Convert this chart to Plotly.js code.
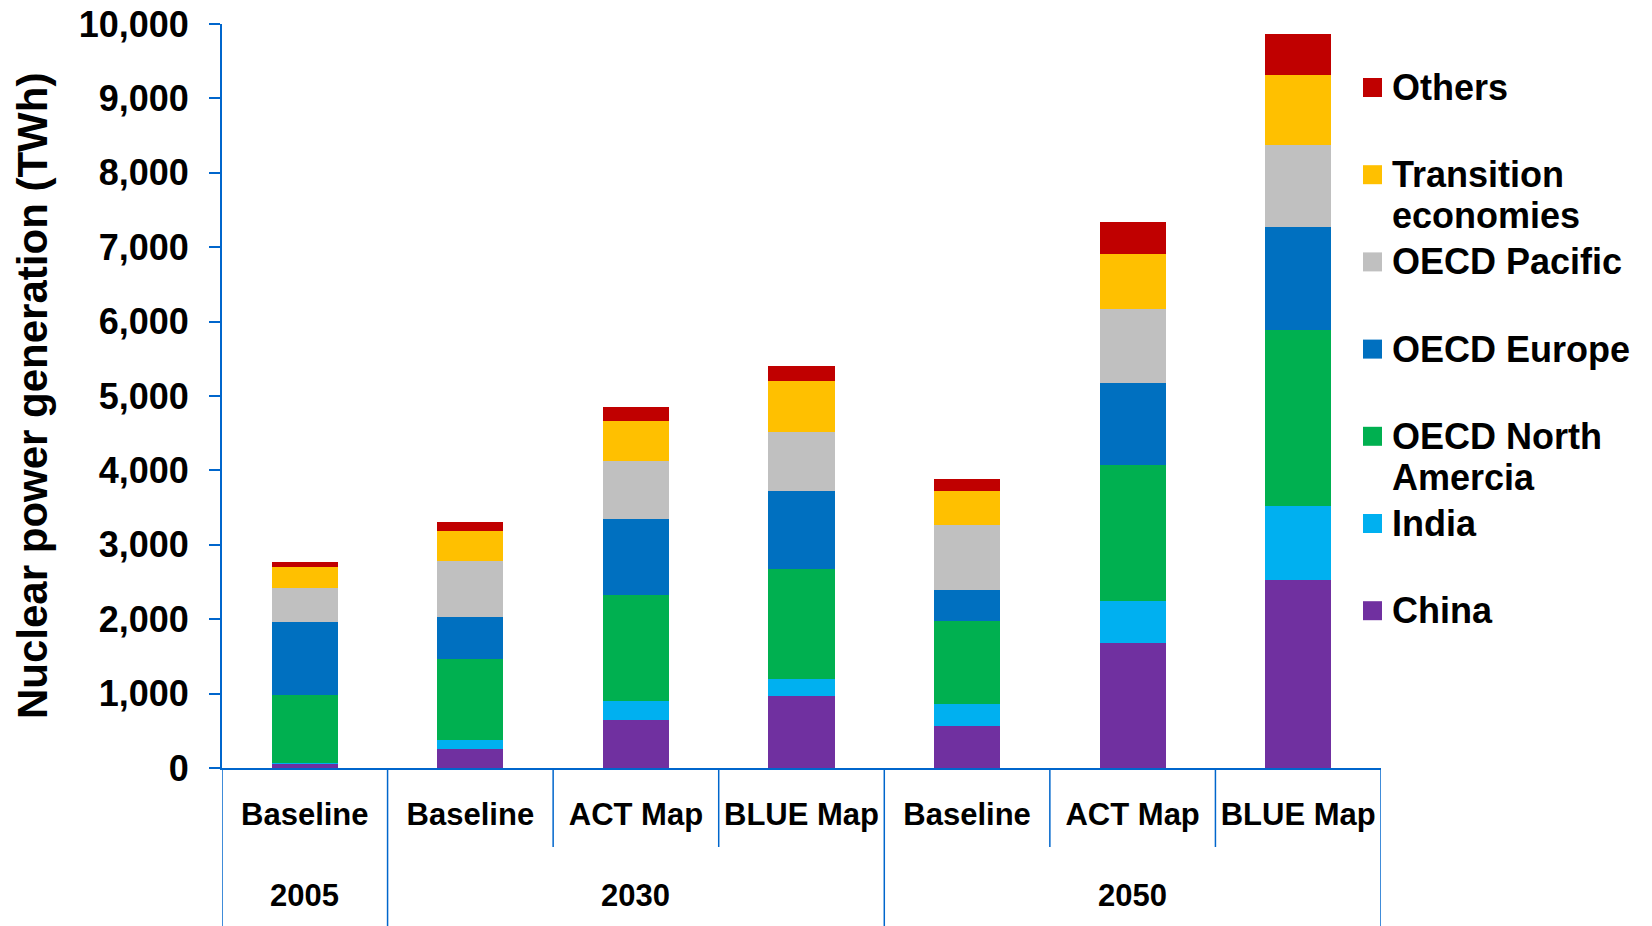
<!DOCTYPE html>
<html><head><meta charset="utf-8">
<script src="https://cdn.plot.ly/plotly-3.0.1.min.js"></script>
<style>html,body{margin:0;padding:0;background:#fff}#chart{width:1652px;height:926px}</style>
</head><body><div id="chart"></div>
<script>
// ---- data ----
const scenarios = ['Baseline', 'Baseline', 'ACT Map', 'BLUE Map', 'Baseline', 'ACT Map', 'BLUE Map'];
const years = ['2005', '2030', '2030', '2030', '2050', '2050', '2050'];
const china = [50, 255, 646, 969, 568, 1676, 2525];
const india = [20, 126, 251, 233, 287, 566, 1001];
const oecdNorthAmerica = [917, 1081, 1435, 1475, 1126, 1830, 2355];
const oecdEurope = [973, 565, 1018, 1045, 417, 1107, 1384];
const oecdPacific = [457, 749, 771, 794, 862, 996, 1113];
const transition = [278, 403, 543, 690, 464, 737, 939];
const others = [76, 130, 188, 193, 157, 421, 544];
const seriesNames = ['China', 'India', 'OECD North Amercia', 'OECD Europe', 'OECD Pacific', 'Transition economies', 'Others'];
const legendLabels = ['China', 'India', 'OECD North<br>Amercia', 'OECD Europe', 'OECD Pacific', 'Transition<br>economies', 'Others'];
const seriesValues = [china, india, oecdNorthAmerica, oecdEurope, oecdPacific, transition, others];
const colors = ['#7030A0', '#00B0F0', '#00B050', '#0070C0', '#C0C0C0', '#FFC000', '#C00000'];
const yTickVals = [0, 1000, 2000, 3000, 4000, 5000, 6000, 7000, 8000, 9000, 10000];
const yTitle = 'Nuclear power generation (TWh)';

// ---- layout constants ----
const W = 1652, H = 926;
const M = {l: 222, r: 271, t: 24, b: 158};
const PW = W - M.l - M.r, PH = H - M.t - M.b;
const px2x = x => (x - M.l) / PW;
const px2y = y => (H - M.b - y) / PH;
const FONT = 'Liberation Sans, Arial, Helvetica, sans-serif';
const AX = '#0066CC';

const idx = scenarios.map((_, i) => i);

const traces = seriesValues.map((vals, k) => ({
  type: 'bar',
  name: seriesNames[k],
  x: idx,
  y: vals,
  marker: {color: colors[k], line: {width: 0}},
  hoverinfo: 'name+y'
}));

const shapes = [];
// category dividers below the axis
const bounds = [-0.5];
for (let i = 0; i < idx.length - 1; i++) bounds.push(i + 0.5);
bounds.push(idx.length - 0.5);
bounds.forEach(b => {
  const long = (b < 0) || (b > idx.length - 1) || (years[Math.floor(b)] !== years[Math.ceil(b)]);
  shapes.push({type: 'line', xref: 'x', yref: 'paper', x0: b, x1: b, y0: 0,
    y1: long ? px2y(H + 5) : px2y(847), line: {color: AX, width: 1.5}});
});

const annotations = [];
// y-axis title
annotations.push({xref: 'paper', yref: 'paper', x: px2x(32), y: 0.5, text: yTitle, textangle: -90,
  showarrow: false, xanchor: 'center', yanchor: 'middle',
  font: {family: FONT, size: 42, color: '#000', weight: 700}});
// year group labels
const groups = [...new Set(years)];
groups.forEach(g => {
  const members = idx.filter(i => years[i] === g);
  const c = members.reduce((a, b) => a + b, 0) / members.length;
  annotations.push({xref: 'x', yref: 'paper', x: c, y: px2y(895), text: g, showarrow: false,
    xanchor: 'center', yanchor: 'middle', font: {family: FONT, size: 31, color: '#000', weight: 700}});
});

// legend (top: Others ... bottom: China)
const legTop = 87.5, legStep = 87.2, lineGap = 41;
for (let r = 0; r < seriesNames.length; r++) {
  const k = seriesNames.length - 1 - r;
  const cy = legTop + r * legStep;
  shapes.push({type: 'rect', xref: 'paper', yref: 'paper', x0: px2x(1363), x1: px2x(1382),
    y0: px2y(cy + 9.5), y1: px2y(cy - 9.5), fillcolor: colors[k], line: {width: 0}});
  const lines = legendLabels[k].split('<br>').length;
  annotations.push({xref: 'paper', yref: 'paper', x: px2x(1390), y: px2y(cy + (lines - 1) * lineGap / 2),
    text: '<span style="font-size:36px">' + legendLabels[k] + '</span>', showarrow: false,
    xanchor: 'left', yanchor: 'middle', align: 'left',
    font: {family: FONT, size: 31.5, color: '#000', weight: 700}});
}

const layout = {
  width: W, height: H,
  margin: {l: M.l, r: M.r, t: M.t, b: M.b, pad: 0},
  paper_bgcolor: '#fff', plot_bgcolor: '#fff',
  font: {family: FONT, color: '#000', weight: 700},
  barmode: 'stack',
  bargap: 0.6,
  showlegend: false,
  xaxis: {
    range: [-0.5, idx.length - 0.5], tickvals: idx, ticktext: scenarios,
    ticks: '', showgrid: false, zeroline: false,
    showline: true, linecolor: AX, linewidth: 2,
    tickfont: {family: FONT, size: 31, color: '#000', weight: 700},
    ticklabelstandoff: 18, automargin: false, fixedrange: true
  },
  yaxis: {
    range: [0, 10000], tickvals: yTickVals, tickformat: ',d',
    ticks: 'outside', ticklen: 11, tickwidth: 2, tickcolor: AX,
    showgrid: false, zeroline: false, showline: true, linecolor: AX, linewidth: 2,
    tickfont: {family: FONT, size: 36, color: '#000', weight: 700},
    ticklabelstandoff: 13, automargin: false, fixedrange: true
  },
  shapes: shapes,
  annotations: annotations
};

Plotly.newPlot('chart', traces, layout, {displayModeBar: false, staticPlot: true});
</script>
</body></html>
